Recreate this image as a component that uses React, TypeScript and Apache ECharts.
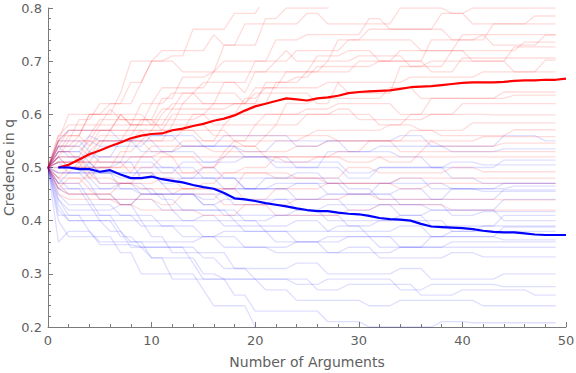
import React, { useEffect, useRef } from "react";
import * as echarts from "echarts";

// Individual runs: each run starts at credence 0.5 at argument 0.
// Each entry [argument, credence] is a change of credence at that argument (held until the next change).
const redRuns: number[][][] = [
  [[1,.53],[2,.56],[4,.6],[7,.64],[8,.7],[12,.71],[14,.76],[18,.79],[21,.82]],
  [[1,.55],[3,.59],[5,.62],[9,.66],[10,.7],[13,.68],[17,.73],[19,.77],[25,.79],[27,.77],[34,.8],[39,.79],[41,.8]],
  [[1,.52],[2,.55],[5,.58],[11,.61],[13,.64],[15,.66],[20,.7],[22,.74],[25,.75],[31,.78],[33,.76],[38,.79],[41,.77],[47,.785]],
  [[1,.54],[3,.56],[4,.6],[8,.58],[9,.62],[11,.65],[16,.68],[17,.7],[23,.72],[24,.7],[28,.74],[31,.76],[39,.74],[43,.77]],
  [[1,.51],[5,.54],[6,.57],[11,.6],[12,.62],[17,.66],[19,.64],[20,.68],[26,.71],[29,.72],[32,.7],[37,.74],[42,.75]],
  [[1,.56],[2,.58],[6,.61],[7,.59],[11,.63],[13,.67],[16,.68],[22,.7],[24,.72],[29,.74],[36,.72],[40,.75],[43,.73],[48,.749]],
  [[1,.53],[3,.55],[8,.58],[10,.62],[12,.64],[15,.62],[20,.65],[23,.68],[27,.7],[30,.71],[35,.69],[39,.72],[46,.736]],
  [[1,.5],[4,.53],[5,.55],[9,.57],[14,.6],[16,.62],[22,.66],[25,.68],[30,.7],[34,.72],[41,.7],[45,.727]],
  [[1,.54],[2,.57],[7,.6],[8,.58],[13,.62],[14,.64],[19,.62],[21,.66],[24,.67],[26,.69],[32,.7],[37,.68],[40,.706]],
  [[1,.52],[4,.56],[5,.59],[11,.57],[12,.6],[19,.63],[21,.65],[27,.66],[29,.64],[34,.69],[37,.7],[45,.68],[48,.702]],
  [[1,.55],[2,.57],[7,.6],[10,.58],[12,.61],[18,.62],[20,.64],[26,.62],[28,.66],[35,.67],[42,.68]],
  [[1,.51],[4,.54],[5,.56],[9,.59],[15,.6],[16,.58],[23,.62],[26,.63],[33,.65],[36,.63],[44,.642]],
  [[1,.53],[3,.51],[8,.55],[10,.57],[15,.55],[17,.58],[18,.6],[25,.61],[28,.62],[34,.6],[37,.63],[45,.636]],
  [[1,.48],[2,.5],[7,.53],[9,.55],[13,.57],[18,.55],[20,.58],[21,.6],[28,.61],[30,.59],[37,.6],[40,.62]],
  [[1,.56],[4,.54],[5,.57],[10,.55],[12,.58],[16,.56],[22,.58],[25,.6],[32,.58],[35,.6],[43,.599]],
  [[1,.47],[4,.49],[5,.52],[11,.53],[13,.55],[19,.54],[21,.56],[26,.57],[33,.58],[36,.57],[41,.584]],
  [[1,.52],[2,.5],[8,.52],[10,.54],[16,.53],[18,.55],[25,.56],[28,.55],[35,.57],[38,.56],[45,.571]],
  [[1,.49],[3,.51],[8,.49],[9,.52],[15,.5],[17,.53],[24,.54],[27,.55],[34,.53],[37,.55],[42,.558]],
  [[1,.54],[4,.52],[5,.55],[10,.53],[12,.52],[18,.54],[21,.52],[28,.53],[31,.55],[38,.54],[44,.546]],
  [[1,.46],[2,.48],[7,.47],[9,.49],[15,.5],[17,.52],[23,.51],[26,.52],[33,.51],[36,.53],[44,.53]],
  [[1,.51],[4,.48],[5,.5],[11,.52],[13,.49],[19,.5],[22,.52],[29,.51],[32,.52],[39,.52]],
  [[1,.47],[2,.45],[7,.47],[11,.48],[13,.46],[19,.49],[22,.48],[29,.5],[32,.49],[39,.5],[42,.492]],
  [[1,.52],[4,.49],[5,.47],[9,.46],[15,.47],[17,.49],[24,.48],[27,.47],[34,.48],[42,.48]],
  [[1,.45],[2,.44],[7,.43],[9,.45],[13,.46],[19,.44],[22,.46],[27,.47],[34,.46],[37,.47]],
  [[1,.48],[4,.46],[5,.44],[11,.43],[13,.45],[17,.43],[24,.44],[29,.45],[32,.44],[44,.439]],
  [[1,.46],[2,.45],[7,.43],[9,.42],[15,.41],[19,.43],[22,.41],[29,.42],[32,.43],[39,.42],[44,.42]],
  [[1,.55],[2,.6],[6,.62],[8,.66],[10,.7],[11,.72],[16,.75],[17,.73],[21,.78],[23,.8],[28,.83]],
];

const blueRuns: number[][][] = [
  [[1,.55],[2,.57],[7,.55],[9,.56],[15,.54],[17,.56],[24,.54],[27,.55],[34,.56],[37,.54],[44,.56],[48,.55]],
  [[1,.53],[4,.55],[5,.54],[10,.56],[13,.54],[19,.53],[22,.55],[29,.53],[32,.54],[39,.53],[44,.535]],
  [[1,.54],[2,.52],[7,.55],[9,.53],[15,.51],[17,.52],[24,.5],[27,.53],[34,.52],[37,.5],[44,.514]],
  [[1,.51],[4,.53],[5,.51],[11,.49],[13,.51],[19,.52],[22,.5],[29,.48],[32,.5],[39,.51],[42,.505]],
  [[1,.52],[2,.5],[7,.51],[9,.48],[15,.5],[17,.48],[24,.49],[27,.47],[34,.48],[37,.46],[44,.47]],
  [[1,.49],[4,.51],[5,.49],[11,.47],[13,.48],[19,.46],[22,.47],[29,.45],[32,.47],[39,.46],[45,.465]],
  [[1,.47],[2,.49],[7,.48],[9,.5],[15,.48],[17,.46],[24,.47],[27,.45],[34,.46],[37,.44],[44,.458]],
  [[1,.55],[4,.53],[5,.52],[11,.5],[13,.48],[19,.46],[21,.48],[29,.46],[32,.44],[39,.46],[42,.455]],
  [[1,.48],[2,.46],[7,.47],[9,.45],[15,.44],[17,.46],[24,.44],[27,.45],[34,.43],[37,.42],[44,.44]],
  [[1,.53],[4,.51],[5,.49],[11,.47],[12,.45],[18,.43],[22,.44],[29,.42],[32,.43],[39,.41],[42,.417]],
  [[1,.46],[2,.45],[7,.43],[9,.45],[15,.43],[17,.41],[24,.42],[27,.4],[34,.41],[37,.39],[44,.41]],
  [[1,.5],[4,.48],[5,.46],[11,.44],[13,.42],[19,.4],[22,.41],[29,.39],[32,.4],[39,.38],[42,.39]],
  [[1,.44],[2,.42],[7,.43],[9,.4],[15,.41],[17,.39],[24,.4],[27,.38],[34,.39],[37,.37],[44,.388]],
  [[1,.52],[4,.5],[5,.47],[10,.45],[12,.42],[18,.4],[21,.38],[28,.39],[31,.37],[39,.38]],
  [[1,.45],[2,.43],[7,.41],[9,.39],[15,.37],[17,.38],[24,.36],[27,.37],[34,.35],[37,.37],[44,.364]],
  [[1,.49],[4,.47],[5,.44],[11,.42],[13,.4],[19,.38],[22,.36],[29,.37],[32,.35],[39,.36]],
  [[1,.42],[2,.4],[6,.38],[8,.36],[15,.37],[17,.35],[24,.36],[27,.34],[34,.35],[42,.35]],
  [[1,.47],[4,.44],[5,.41],[11,.39],[13,.37],[19,.35],[22,.34],[29,.35],[32,.33],[39,.34],[42,.332]],
  [[1,.43],[2,.4],[7,.37],[9,.35],[15,.33],[17,.31],[24,.32],[27,.3],[34,.31],[37,.29],[44,.3]],
  [[1,.36],[2,.38],[5,.355],[9,.35],[10,.33],[15,.3],[17,.29],[24,.28],[27,.29],[34,.27],[37,.28],[44,.276]],
  [[1,.46],[4,.43],[5,.4],[10,.37],[12,.34],[18,.31],[20,.29],[26,.27],[29,.28],[36,.26],[40,.27],[47,.26]],
  [[1,.44],[2,.41],[7,.38],[8,.35],[14,.32],[15,.29],[21,.27],[24,.25],[31,.24],[34,.25],[42,.24]],
  [[1,.41],[4,.38],[5,.36],[10,.33],[12,.29],[18,.26],[20,.23],[27,.21],[31,.2],[38,.21],[41,.208]],
  [[1,.4],[2,.37],[7,.34],[9,.3],[15,.27],[16,.24],[20,.2],[21,.18]],
  [[1,.54],[4,.56],[5,.55],[11,.53],[13,.54],[19,.52],[22,.51],[29,.49],[32,.5],[39,.48],[42,.47]],
  [[1,.51],[2,.49],[7,.46],[9,.45],[15,.43],[17,.44],[24,.42],[27,.43],[34,.41],[37,.42],[44,.4]],
];

const runStart = 0.5;
const runLast = 49;

// Mean credence, arguments 1..50
const meanArgs: number[] = Array.from({ length: 50 }, (_, i) => i + 1);
const meanRed: number[] = [
  0.5, 0.505, 0.515, 0.525, 0.532, 0.54, 0.547, 0.555, 0.56, 0.563,
  0.564, 0.57, 0.573, 0.578, 0.582, 0.588, 0.592, 0.598, 0.607, 0.615,
  0.62, 0.625, 0.63, 0.628, 0.626, 0.63, 0.632, 0.635, 0.64, 0.642,
  0.643, 0.644, 0.645, 0.648, 0.651, 0.652, 0.653, 0.655, 0.657, 0.659,
  0.66, 0.66, 0.66, 0.661, 0.663, 0.664, 0.664, 0.665, 0.665, 0.667,
];
const meanBlue: number[] = [
  0.5, 0.5, 0.497, 0.497, 0.492, 0.495, 0.487, 0.48, 0.48, 0.483,
  0.478, 0.475, 0.472, 0.467, 0.463, 0.46, 0.452, 0.442, 0.44, 0.437,
  0.433, 0.43, 0.427, 0.423, 0.42, 0.418, 0.418, 0.415, 0.413, 0.412,
  0.409, 0.405, 0.403, 0.402, 0.4, 0.394, 0.389, 0.388, 0.387, 0.386,
  0.384, 0.381, 0.379, 0.378, 0.378, 0.376, 0.374, 0.373, 0.373, 0.373,
];

const xTicks = [0, 10, 20, 30, 40, 50];
const yTicks = [0.2, 0.3, 0.4, 0.5, 0.6, 0.7, 0.8];

function runPoints(events: number[][]): number[][] {
  const pts: number[][] = [[0, runStart]];
  let prev = runStart;
  let lastX = 0;
  for (const [x, y] of events) {
    if (x - 1 > lastX) pts.push([x - 1, prev]);
    pts.push([x, y]);
    prev = y;
    lastX = x;
  }
  if (lastX < runLast) pts.push([runLast, prev]);
  return pts;
}

export default function App() {
  const ref = useRef<HTMLDivElement>(null);
  useEffect(() => {
    if (!ref.current) return;
    const chart = echarts.init(ref.current, undefined, { renderer: "svg" });
    const axisColor = "#7a7a7a";
    const labelColor = "#5f5f5f";
    const font = "DejaVu Sans";
    const faint = (runs: number[][][], color: string) =>
      runs.map((r) => ({
        type: "line",
        data: runPoints(r),
        showSymbol: false,
        symbol: "none",
        silent: true,
        lineStyle: { color, width: 1.3 },
        z: 2,
      }));
    const faintSeries: any[] = [];
    const fr = faint(redRuns, "rgba(255,0,0,0.14)");
    const fb = faint(blueRuns, "rgba(0,0,255,0.13)");
    const n = Math.max(fr.length, fb.length);
    for (let i = 0; i < n; i++) {
      if (fb[i]) faintSeries.push(fb[i]);
      if (fr[i]) faintSeries.push(fr[i]);
    }
    chart.setOption({
      animation: false,
      grid: { left: 48, right: 10, top: 8, bottom: 46, containLabel: false, outerBoundsMode: "none" },
      xAxis: {
        type: "value",
        min: xTicks[0],
        max: xTicks[xTicks.length - 1],
        interval: 10,
        name: "Number of Arguments",
        nameLocation: "middle",
        nameGap: 28,
        nameMoveOverlap: false,
        nameTextStyle: { color: labelColor, fontSize: 14, fontFamily: font },
        axisLine: { lineStyle: { color: axisColor, width: 1 } },
        axisTick: { inside: true, length: 5, lineStyle: { color: axisColor } },
        minorTick: { show: true, splitNumber: 5, length: 3, lineStyle: { color: axisColor } },
        axisLabel: { color: labelColor, fontSize: 13, fontFamily: font, margin: 7 },
        splitLine: { show: false },
      },
      yAxis: {
        type: "value",
        min: yTicks[0],
        max: yTicks[yTicks.length - 1],
        interval: 0.1,
        name: "Credence in q",
        nameLocation: "middle",
        nameGap: 32,
        nameMoveOverlap: false,
        nameTextStyle: { color: labelColor, fontSize: 14, fontFamily: font },
        axisLine: { show: true, lineStyle: { color: axisColor, width: 1 } },
        axisTick: { show: true, inside: true, length: 5, lineStyle: { color: axisColor } },
        minorTick: { show: true, splitNumber: 5, length: 3, lineStyle: { color: axisColor } },
        axisLabel: {
          color: labelColor,
          fontSize: 13,
          fontFamily: font,
          margin: 6,
          formatter: (v: number) => v.toFixed(1),
        },
        splitLine: { show: false },
      },
      series: [
        ...faintSeries,
        {
          type: "line",
          data: meanArgs.map((x, i) => [x, meanRed[i]]),
          showSymbol: false,
          symbol: "none",
          lineStyle: { color: "#ff0000", width: 2.2 },
          z: 5,
        },
        {
          type: "line",
          data: meanArgs.map((x, i) => [x, meanBlue[i]]),
          showSymbol: false,
          symbol: "none",
          lineStyle: { color: "#0000ff", width: 2.2 },
          z: 5,
        },
      ],
    });
    return () => chart.dispose();
  }, []);
  return <div ref={ref} style={{ width: 576, height: 373, position: "absolute", left: 0, top: 0 }} />;
}
